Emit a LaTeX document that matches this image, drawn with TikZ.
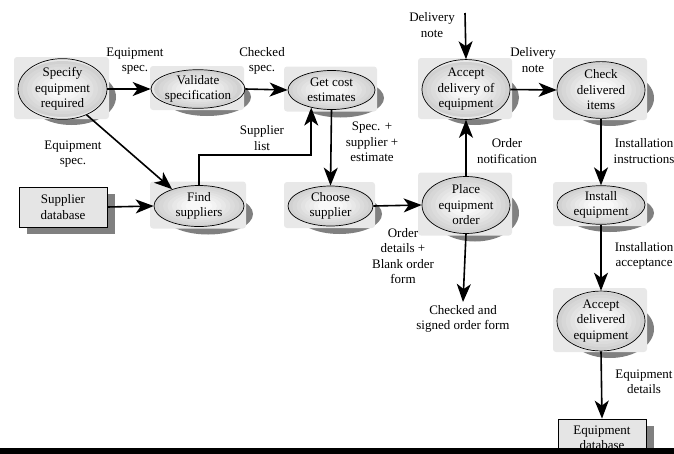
\documentclass[tikz,border=0pt]{standalone}
\usepackage{fontspec}
\setmainfont{Liberation Serif}
\usetikzlibrary{arrows.meta,shapes.geometric,calc}

% a process: offset shadow, light panel, graded ellipse, outline
% #1 name, #2 centre, #3 width, #4 height, #5 text
\newcommand\procnode[5]{%
  \coordinate (#1-c) at (#2);
  \fill[shadowfill] ($(#1-c)+(9,8)$) ellipse [x radius=#3/2, y radius=#4/2];
  \fill[backdrop] ($(#1-c)+(-#3/2-4,-#4/2-4)$) rectangle ($(#1-c)+(#3/2+2,#4/2+2)$);
  \foreach \k in {0,...,7}{%
    \pgfmathsetmacro\sc{1-0.1*\k}%
    \pgfmathsetmacro\gr{18-2.2*\k}%
    \fill[black!\gr] (#1-c) ellipse [x radius={#3/2*\sc}, y radius={#4/2*\sc}];
  }
  \node[proc, minimum width=#3pt, minimum height=#4pt] (#1) at (#1-c) {#5};
}
% a data store: offset shadow, filled box
\newcommand\storenode[5]{%
  \coordinate (#1-c) at (#2);
  \fill[shadowfill] ($(#1-c)+(-#3/2+8,-#4/2+7)$) rectangle ($(#1-c)+(#3/2+8,#4/2+7)$);
  \node[store, minimum width=#3pt, minimum height=#4pt] (#1) at (#1-c) {#5};
}

\begin{document}
\begin{tikzpicture}[x=1pt,y=-1pt,
  font=\fontsize{13}{15.5}\selectfont,
  proc/.style={ellipse, draw=black, line width=0.7pt, inner sep=0pt, align=center},
  store/.style={rectangle, draw=black, line width=0.8pt, inner sep=0pt, align=center,
     fill=black!10},
  shadowfill/.style={fill=black!50},
  lbl/.style={align=center, inner sep=0pt},
  flow/.style={line width=1.6pt, -{Stealth[length=18pt,width=14pt,inset=5pt]}},
  backdrop/.style={fill=black!9, rounded corners=3pt}]

\useasboundingbox (0,0) rectangle (674,453);

% processes
\procnode{spec}{62.5,89}{89}{56}{Specify\\equipment\\required}
\procnode{validate}{198,89}{88}{38}{Validate\\specification}
\procnode{getcost}{331.5,90}{87}{39}{Get cost\\estimates}
\procnode{find}{199,206}{90}{41}{Find\\suppliers}
\procnode{choose}{330.5,206}{85}{40}{Choose\\supplier}
\procnode{accept}{466,89.5}{88}{55}{Accept\\delivery of\\equipment}
\procnode{check}{601,90}{88}{56}{Check\\delivered\\items}
\procnode{place}{466,205}{88}{57}{Place\\equipment\\order}
\procnode{install}{601,205}{88}{38}{Install\\equipment}
\procnode{acceptd}{601,321}{88}{58}{Accept\\delivered\\equipment}

% data stores
\storenode{sdb}{63,207}{88}{40}{Supplier\\database}
\storenode{edb}{602,438}{88}{38}{Equipment\\database}

% free ends and bends
\coordinate (dnin) at (465,13);
\coordinate (cso)  at (463,302);
\coordinate (kb)   at (199,155);

% data flows
\draw[flow] (spec.east) -- (validate.west);
\draw[flow] (validate.east) -- (getcost.west);
\draw[flow] (spec.-47) -- (find.148);
\draw[flow] (sdb.east) -- (find.west);
\draw[flow] (find.north) -- (kb) -| (getcost.221);
\draw[flow] (getcost.south) -- (choose.north);
\draw[flow] (choose.east) -- (place.west);
\draw[flow] (place.north) -- (accept.south);
\draw[flow] (dnin) -- (accept.north);
\draw[flow] (accept.east) -- (check.west);
\draw[flow] (check.south) -- (install.north);
\draw[flow] (place.south) -- (cso);
\draw[flow] (install.south) -- (acceptd.north);
\draw[flow] (acceptd.south) -- (edb.north);

% flow labels
\node[lbl] (l1)  at (135,61)  {Equipment\\spec.};
\node[lbl] (l2)  at (262,61)  {Checked\\spec.};
\node[lbl] (l3)  at (73,154)  {Equipment\\spec.};
\node[lbl] (l4)  at (262,138) {Supplier\\list};
\node[lbl] (l5)  at (372,142) {Spec. +\\supplier +\\estimate};
\node[lbl] (l6)  at (432,25)  {Delivery\\note};
\node[lbl] (l7)  at (533,60)  {Delivery\\note};
\node[lbl] (l8)  at (507,151) {Order\\notification};
\node[lbl] (l9)  at (644,151) {Installation\\instructions};
\node[lbl] (l10) at (403,256) {Order\\details +\\Blank order\\form};
\node[lbl] (l11) at (463,319) {Checked and\\signed order form};
\node[lbl] (l12) at (644,256) {Installation\\acceptance};
\node[lbl] (l13) at (644,382) {Equipment\\details};

% bottom rule
\fill[black] (0,447.5) rectangle (674,453.5);
\end{tikzpicture}
\end{document}
